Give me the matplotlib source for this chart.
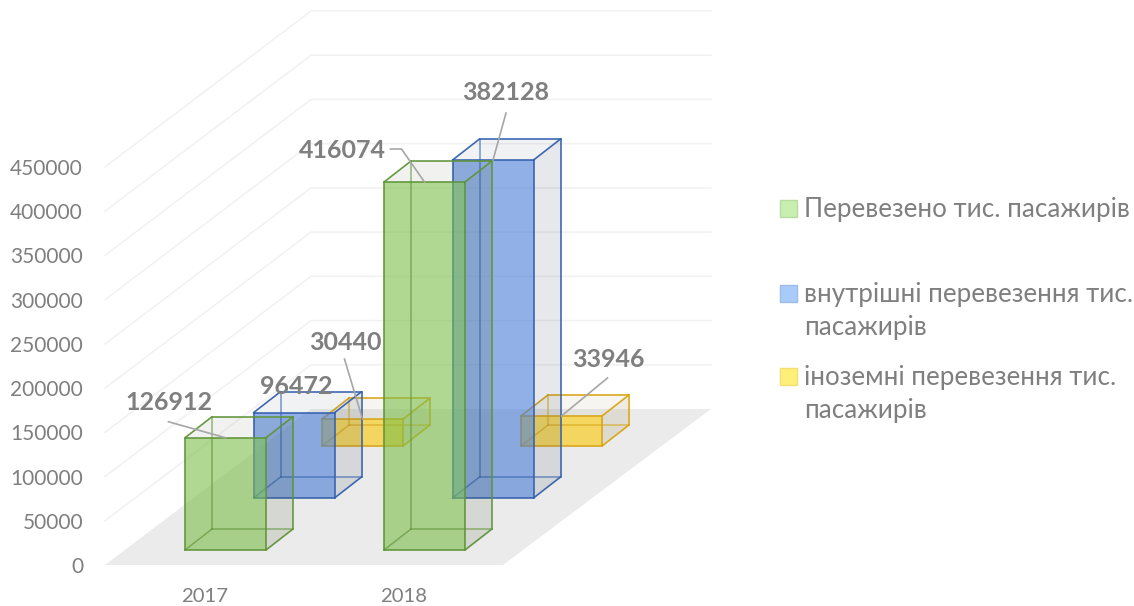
import matplotlib
matplotlib.use("Agg")
import matplotlib.pyplot as plt
from matplotlib.patches import Polygon, Rectangle

plt.rcParams["font.family"] = ["Lato", "Open Sans", "DejaVu Sans"]

# ===================== DATA =====================
years = ["2017", "2018"]
series_names = [
    "Перевезено тис. пасажирів",
    "внутрішні перевезення тис.\nпасажирів",
    "іноземні перевезення тис.\nпасажирів",
]
total = [126912, 416074]
domestic = [96472, 382128]
foreign = [30440, 33946]
y_ticks = [0, 50000, 100000, 150000, 200000, 250000, 300000, 350000, 400000, 450000]

# ===================== STYLE ====================
W, H = 1134, 606
PX = 398 / 450000           # pixels per passenger unit
BASE_Y = 565                # pixel row of value 0
FLOOR_LEFT, FLOOR_W = 105, 398
GRID_DX, GRID_DY = 206, 156
BAR_W = 81
BAR_DX, BAR_DY = 27, 21     # depth of one box
SER_DX, SER_DY = 68.5, 52   # shift between series
FIRST_DX, FIRST_DY = -19.5, 15

GREY = "#7F7F7F"
fills = ["#7BC049", "#457BD8", "#FCCA00"]
edges = ["#5F9438", "#3460AE", "#D9A514"]
tints = ["#4A5A30", "#44546A", "#8A7A30"]
legend_fills = ["#C6EFB0", "#A9CBF7", "#FFF07A"]
legend_edges = ["#B5DDA0", "#9DBDE8", "#F5DE70"]
legend_rows = [208, 293, 376]

# label centre relative to the anchor (pixels), per series and year
label_off = [[(-57, -35), (-82, -32)], [(2, -26), (13, -68)], [(-17, -77), (47, -56)]]
# leader start relative to the anchor, None = no leader
leader_off = [[(-57, -16), (-23, -33)], [None, (13, -47)], [(-18, -60), (46, -38)]]


def yv(px):
    """pixel offset upwards -> value units"""
    return px / PX


def box(ax, x0, y0, w, h, fill, edge, tint, z):
    dx, dy = BAR_DX, yv(BAR_DY)
    f = [(x0, y0), (x0 + w, y0), (x0 + w, y0 + h), (x0, y0 + h)]
    b = [(x + dx, y + dy) for x, y in f]

    faces = [
        ([b[0], b[1], b[2], b[3]], tint, 0.02),         # back
        ([f[0], f[1], b[1], b[0]], tint, 0.04),         # bottom
        ([f[3], f[2], b[2], b[3]], tint, 0.05),         # top
        ([f[1], b[1], b[2], f[2]], tint, 0.11),         # right side
        ([f[0], b[0], b[3], f[3]], tint, 0.02),         # left side
        (f, fill, 0.58),                                # front
    ]
    for pts, col, alpha in faces:
        ax.add_patch(Polygon(pts, closed=True, fc=col, ec="none", alpha=alpha, zorder=z))

    hidden = [(b[0], b[1]), (b[0], b[3]), (b[0], f[0])]
    shown = [(f[0], f[1]), (f[1], f[2]), (f[2], f[3]), (f[3], f[0]),
             (f[1], b[1]), (f[2], b[2]), (f[3], b[3]), (b[1], b[2]), (b[2], b[3])]
    for p, q in hidden:
        ax.plot([p[0], q[0]], [p[1], q[1]], color=edge, lw=1.1, alpha=0.65, zorder=z)
    for p, q in shown:
        ax.plot([p[0], q[0]], [p[1], q[1]], color=edge, lw=1.2, alpha=0.95, zorder=z,
                solid_capstyle="round")


def main():
    fig = plt.figure(figsize=(W / 100, H / 100), dpi=100)
    ax = fig.add_axes([0, 0, 1, 1])
    ax.set_xlim(0, W)
    ax.set_ylim(yv(BASE_Y - H), yv(BASE_Y))
    ax.axis("off")

    # floor
    ax.add_patch(Polygon([(FLOOR_LEFT, 0), (FLOOR_LEFT + FLOOR_W, 0),
                          (FLOOR_LEFT + FLOOR_W + GRID_DX + 2, yv(GRID_DY)),
                          (FLOOR_LEFT + GRID_DX, yv(GRID_DY))],
                         fc="#EBEBEB", ec="none", zorder=1))

    # gridlines and y labels
    for t in y_ticks:
        if t > 0:
            ax.plot([FLOOR_LEFT, FLOOR_LEFT + GRID_DX, FLOOR_LEFT + FLOOR_W + GRID_DX + 2],
                    [t, t + yv(GRID_DY), t + yv(GRID_DY)], color="#F1F1F1", lw=1.1, zorder=0)
        ax.text(83, t - yv(2), str(t), ha="right", va="center", color=GREY, fontsize=15)

    # boxes, back series first
    all_values = [total, domestic, foreign]
    cat_w = FLOOR_W / len(years)
    for s in [2, 1, 0]:
        for c, year in enumerate(years):
            cx = FLOOR_LEFT + (c + 0.5) * cat_w
            x0 = cx + FIRST_DX + s * SER_DX
            y0 = yv(FIRST_DY + s * SER_DY)
            box(ax, x0, y0, BAR_W, all_values[s][c], fills[s], edges[s], tints[s], 3 + (2 - s))

    # labels and leaders
    for s, values in enumerate(all_values):
        for c, v in enumerate(values):
            cx = FLOOR_LEFT + (c + 0.5) * cat_w
            ax_x = cx + FIRST_DX + s * SER_DX + BAR_W / 2
            ax_y = yv(FIRST_DY + s * SER_DY) + v
            lead = leader_off[s][c]
            if lead is not None:
                xs = [ax_x, ax_x + lead[0]]
                ys = [ax_y, ax_y - yv(lead[1])]
                if s == 0 and c == 1:
                    xs.append(xs[-1] - 11)
                    ys.append(ys[-1])
                ax.plot(xs, ys, color="#A6A6A6", lw=1.2, zorder=8)
            off = label_off[s][c]
            ax.text(ax_x + off[0], ax_y - yv(off[1]), str(v), ha="center", va="center",
                    color=GREY, fontsize=18, fontweight="bold", zorder=9)

    # category labels
    for c, year in enumerate(years):
        ax.text(FLOOR_LEFT + (c + 0.5) * cat_w, yv(BASE_Y - 596.5), year, ha="center", va="center",
                color=GREY, fontsize=14.6)

    # legend
    for name, col, edge, row in zip(series_names, legend_fills, legend_edges, legend_rows):
        ax.add_patch(Rectangle((780, yv(BASE_Y - row - 8.5)), 17, yv(17), fc=col, ec=edge,
                               lw=1.0, zorder=5))
        ax.text(804, yv(BASE_Y - row + 11), name, ha="left", va="top", color=GREY,
                fontsize=18.7, linespacing=1.42)

    fig.savefig("out.png", dpi=100)


if __name__ == "__main__":
    main()
